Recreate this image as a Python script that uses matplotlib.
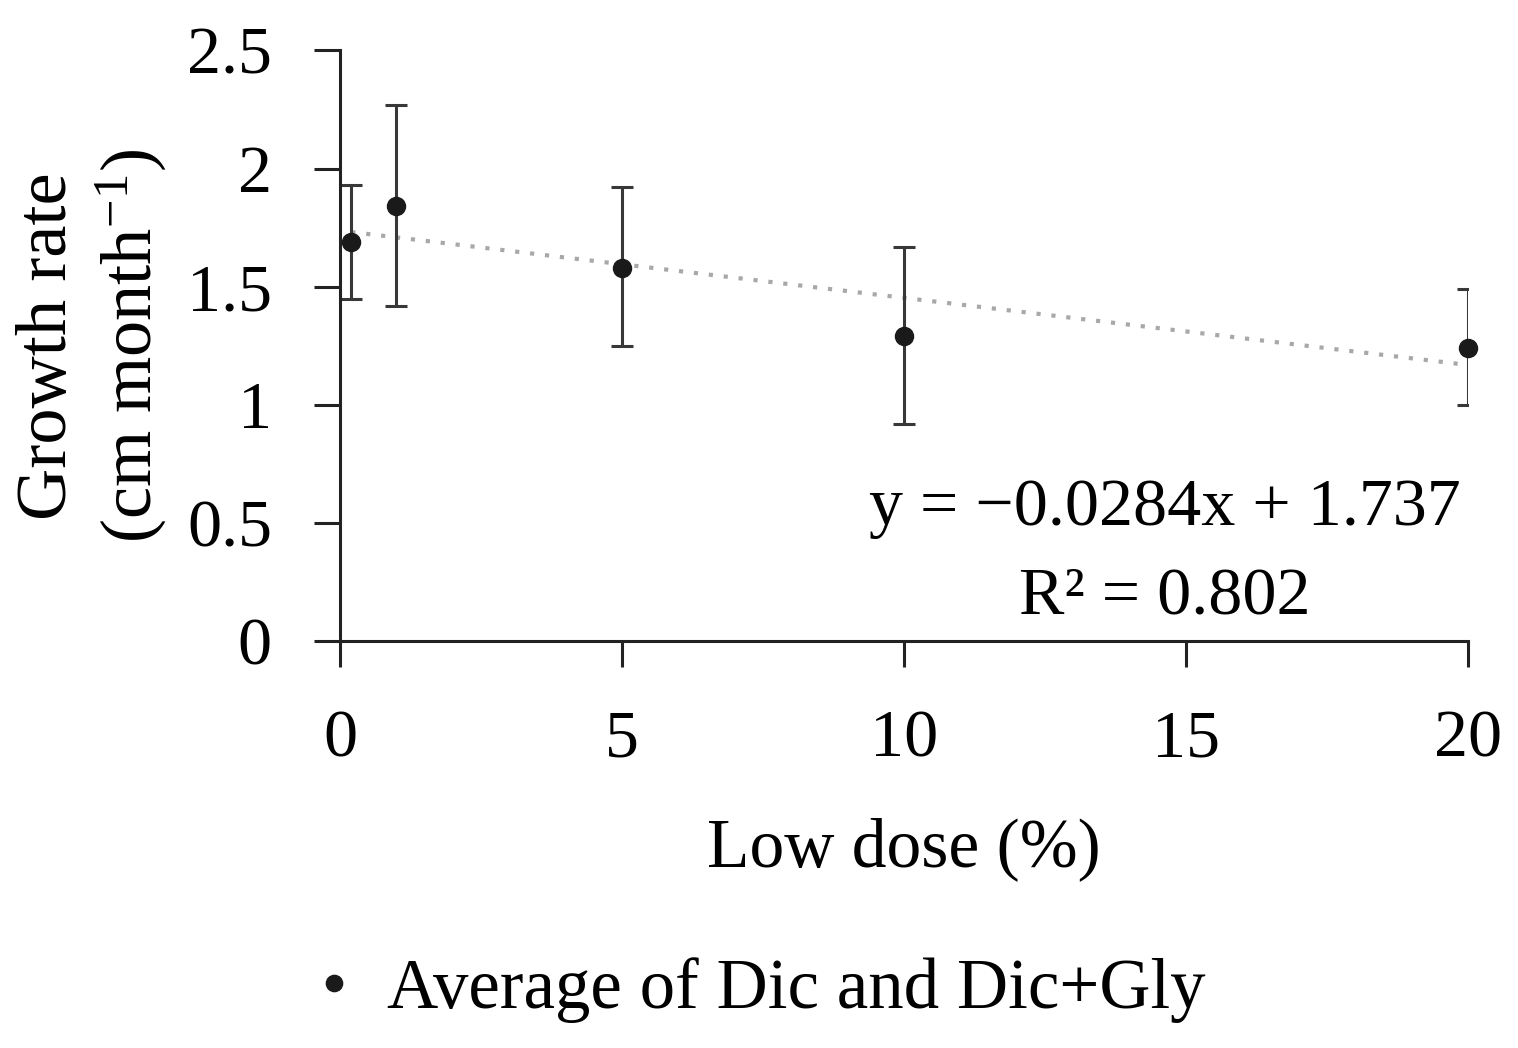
"""Growth rate vs low dose, with linear trend line."""

import numpy as np
import matplotlib
matplotlib.use('Agg')
import matplotlib.pyplot as plt

plt.rcParams['font.family'] = ['Liberation Serif', 'DejaVu Serif']
plt.rcParams['mathtext.fontset'] = 'custom'
plt.rcParams['mathtext.rm'] = 'Liberation Serif'
plt.rcParams['mathtext.it'] = 'Liberation Serif:italic'

# data
dose = [0.2, 1, 5, 10, 20]
growth = [1.69, 1.84, 1.58, 1.29, 1.24]
err_upper = [1.93, 2.27, 1.92, 1.67, 1.49]
err_lower = [1.45, 1.42, 1.25, 0.92, 1.00]
slope, intercept = -0.0284, 1.737
eq_text = 'y = \u22120.0284x + 1.737'
r2_text = 'R\u00b2 = 0.802'
x_ticks = [0, 5, 10, 15, 20]
y_ticks = [0, 0.5, 1, 1.5, 2, 2.5]
y_ticklabels = ['0', '0.5', '1', '1.5', '2', '2.5']

fig = plt.figure(figsize=(15.18, 10.48), dpi=100)
ax = fig.add_axes([0.224, 0.388, 0.743, 0.564])

yerr = [np.array(growth) - np.array(err_lower), np.array(err_upper) - np.array(growth)]
ax.errorbar(dose, growth, yerr=yerr, fmt='none', ecolor='#383838',
            elinewidth=2.2, capsize=8, capthick=2.2, zorder=2)

# trend line
xt = np.array([0.2, 20])
ax.plot(xt, slope * xt + intercept, linestyle=(0, (1, 2.6)), color='#a8a8a8',
        linewidth=3, zorder=1)

ax.plot(dose, growth, 'o', color='#1a1a1a', markersize=13, clip_on=False,
        zorder=3, label='Average of Dic and Dic+Gly')

ax.set_xlim(0, 20)
ax.set_ylim(0, 2.5)
ax.set_xticks(x_ticks)
ax.set_yticks(y_ticks)
ax.set_yticklabels(y_ticklabels)
ax.tick_params(axis='both', labelsize=49, width=2.2, length=19, color='#222222',
               direction='out')
ax.tick_params(axis='x', pad=30)
ax.tick_params(axis='y', pad=30)

for side in ['top', 'right']:
    ax.spines[side].set_visible(False)
for side in ['left', 'bottom']:
    ax.spines[side].set_linewidth(2.2)
    ax.spines[side].set_color('#222222')

ax.set_xlabel('Low dose (%)', fontsize=50, labelpad=34)
ax.set_ylabel('Growth rate\n(cm month$^{\u22121}$)', fontsize=52, labelpad=14,
              linespacing=1.2)

ax.text(0.731, 0.225, eq_text, transform=ax.transAxes, fontsize=49,
        ha='center', va='center')
ax.text(0.731, 0.075, r2_text, transform=ax.transAxes, fontsize=49,
        ha='center', va='center')

fig.legend(loc='center', bbox_to_anchor=(0.5, 0.055), frameon=False,
           fontsize=51, markerscale=0.9, handlelength=0.6, handletextpad=0.45)

plt.savefig('out.png', dpi=100)
